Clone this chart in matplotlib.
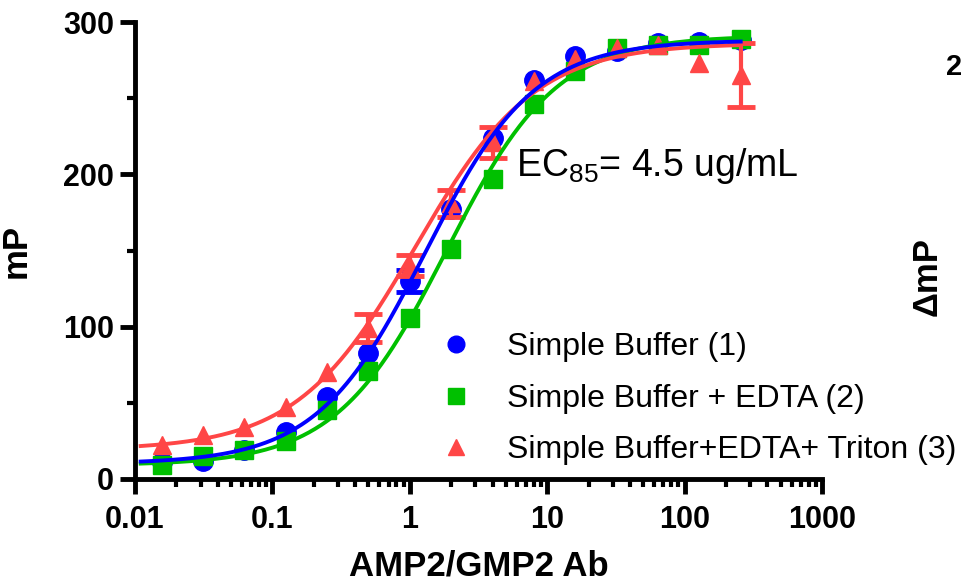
import numpy as np
import matplotlib
matplotlib.use("Agg")
import matplotlib.pyplot as plt
from matplotlib.lines import Line2D
from matplotlib.ticker import LogLocator, FixedLocator, NullFormatter, FixedFormatter

plt.rcParams['font.family'] = ['Liberation Sans', 'DejaVu Sans']
plt.rcParams['mathtext.fontset'] = 'custom'
plt.rcParams['mathtext.rm'] = 'Liberation Sans'

# ---- data ----
conc = [0.015625, 0.03125, 0.0625, 0.125, 0.25, 0.5, 1, 2, 4, 8, 16, 32, 64, 128, 256]

buf1 = [11, 12, 19, 31, 54, 83, 130, 177, 224, 262, 278, 281, 286, 287, 288]
buf1_err = [0, 0, 0, 0, 0, 0, 7, 0, 0, 0, 0, 0, 0, 0, 0]

buf2 = [9, 15, 19, 25, 45, 71, 106, 151, 197, 246, 268, 283, 285, 285, 289]
buf2_err = [0, 0, 0, 0, 0, 0, 0, 0, 0, 0, 0, 0, 0, 0, 0]

buf3 = [22, 29, 34, 47, 70, 99, 140, 181, 221, 261, 276, 283, 285, 273, 265]
buf3_err = [0, 0, 0, 0, 0, 9, 7, 9, 10, 0, 0, 0, 0, 0, 21]

labels = ["Simple Buffer (1)", "Simple Buffer + EDTA (2)", "Simple Buffer+EDTA+ Triton (3)"]
colors = ["#0000FF", "#00C000", "#FF4646"]
markers = ["o", "s", "^"]

# 4-parameter logistic fit parameters: bottom, top, EC50, hill
fit1 = [10, 288, 1.3, 1.1]
fit2 = [9, 291, 1.85, 1.08]
fit3 = [19, 286, 1.1, 1.0]

x_ticks = [0.01, 0.1, 1, 10, 100, 1000]
x_ticklabels = ["0.01", "0.1", "1", "10", "100", "1000"]
y_ticks = [0, 100, 200, 300]

def logistic(x, p):
    b, t, ec, h = p
    return b + (t - b) / (1 + (ec / x) ** h)

fig = plt.figure(figsize=(9.63, 5.81), dpi=100)
ax = fig.add_axes([135/963, 1-479/581, (822-135)/963, (479-22)/581])
ax.set_xscale('log')

series = [(buf1, buf1_err, fit1), (buf2, buf2_err, fit2), (buf3, buf3_err, fit3)]
msizes = [14, 13, 13]
for i, (ys, es, fp) in enumerate(series):
    ax.plot(conc, ys, ls='none', marker=markers[i], color=colors[i], ms=msizes[i],
            zorder=3 + i, clip_on=False)
    xs_e = [c for c, e in zip(conc, es) if e > 0]
    ys_e = [y for y, e in zip(ys, es) if e > 0]
    es_e = [e for e in es if e > 0]
    if xs_e:
        ax.errorbar(xs_e, ys_e, yerr=es_e, fmt='none', ecolor=colors[i],
                    elinewidth=3, capsize=10, capthick=3.5, zorder=3 + i, clip_on=False)

xx = np.logspace(np.log10(0.011), np.log10(256), 400)
line_z = [9, 7, 8]
for i, (ys, es, fp) in enumerate(series):
    ax.plot(xx, logistic(xx, fp), color=colors[i], lw=2.8, zorder=line_z[i])

ax.set_xlim(0.01, 1000)
ax.set_ylim(0, 300)

for s in ['top', 'right']:
    ax.spines[s].set_visible(False)
for s in ['left', 'bottom']:
    ax.spines[s].set_linewidth(3.5)

ax.xaxis.set_major_locator(FixedLocator(x_ticks))
ax.xaxis.set_major_formatter(FixedFormatter(x_ticklabels))
ax.xaxis.set_minor_locator(LogLocator(base=10, subs=np.arange(2, 10)))
ax.xaxis.set_minor_formatter(NullFormatter())
ax.yaxis.set_major_locator(FixedLocator(y_ticks))
ax.yaxis.set_minor_locator(FixedLocator([50, 150, 250]))

ax.tick_params(which='major', length=11, width=3.5, direction='out', labelsize=22, pad=4)
ax.tick_params(which='minor', length=6, width=3, direction='out')
for lab in ax.get_xticklabels() + ax.get_yticklabels():
    lab.set_fontweight('bold')
ax.tick_params(axis='x', which='major', pad=8)

ax.set_xlabel("AMP2/GMP2 Ab", fontsize=25, fontweight='bold', labelpad=10)
ax.set_ylabel("mP", fontsize=25, fontweight='bold', labelpad=22)

ax.text(0.555, 0.685, r"EC$_{\mathregular{85}}$= 4.5 ug/mL", transform=ax.transAxes,
        fontsize=27, ha='left', va='center')

handles = [Line2D([], [], ls='none', marker=markers[i], color=colors[i], ms=12 if i == 0 else 11)
           for i in range(3)]
leg = fig.legend(handles, labels, loc='upper left', bbox_to_anchor=(440/963, 1-332/581),
                 frameon=False, fontsize=23, handlelength=1.0, handletextpad=1.1,
                 labelspacing=0.68, borderaxespad=0, borderpad=0)

fig.text(927/963, 1-276/581, "ΔmP", rotation=90, fontsize=25, fontweight='bold',
         ha='center', va='center')
fig.text(962/963, 1-67/581, "2", fontsize=21, fontweight='bold', ha='right', va='center')

fig.savefig("out.png", dpi=100)
